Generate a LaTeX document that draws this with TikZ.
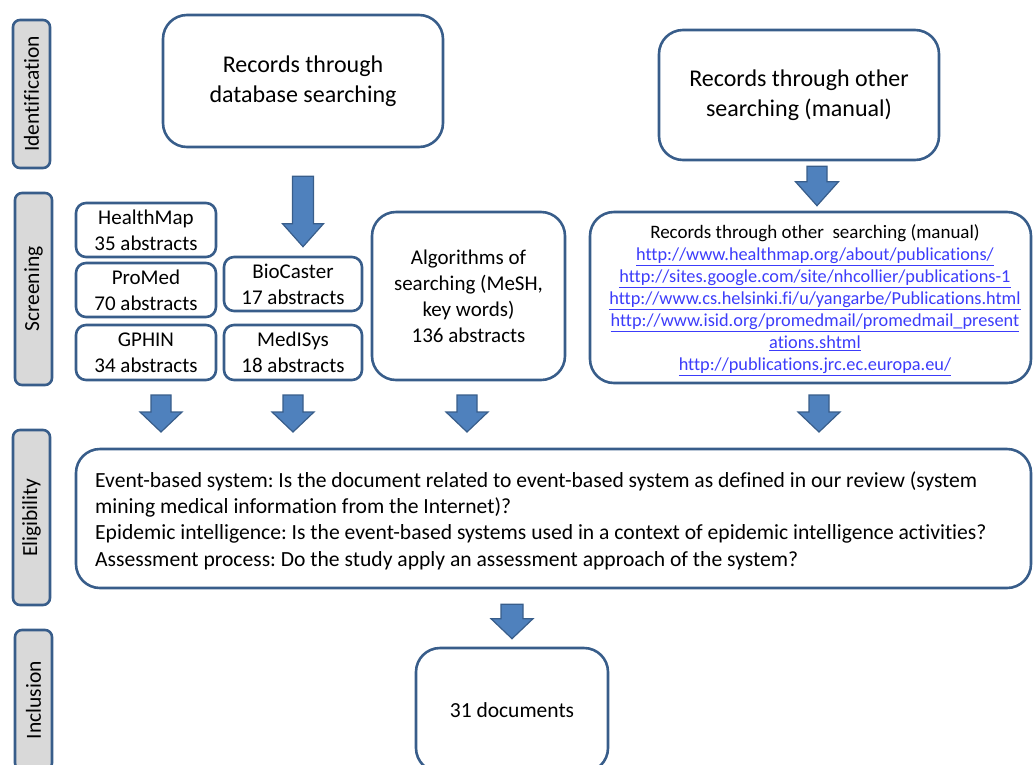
\documentclass[tikz,border=0pt]{standalone}
\usepackage{fontspec}
\setmainfont{Carlito}[Ligatures=NoCommon]
\usetikzlibrary{calc}
\definecolor{boxblue}{RGB}{56,93,138}
\definecolor{arrowblue}{RGB}{79,129,189}
\definecolor{tabgray}{RGB}{217,217,217}
\definecolor{urlblue}{RGB}{60,60,250}

% block arrow: top, tip, shaft half width, head half width, head length
\newcommand{\blockarrow}[5]{%
  \filldraw[arrowfill] ($(#1)+(-#3,0)$) -- ($(#2)+(-#3,-#5)$) -- ($(#2)+(-#4,-#5)$)
    -- (#2) -- ($(#2)+(#4,-#5)$) -- ($(#2)+(#3,-#5)$) -- ($(#1)+(#3,0)$) -- cycle;}
\newcommand{\weblink}[1]{\textcolor{urlblue}{\underline{#1}}}
\frenchspacing

\begin{document}
\begin{tikzpicture}[x=1pt,y=-1pt]
            \tikzstyle{every node}=[font=\fontsize{21}{26}\selectfont]
            \tikzstyle{box}=[draw=boxblue, line width=2.6pt, rounded corners=10pt, align=center, inner sep=0pt]
            \tikzstyle{bigbox}=[box, rounded corners=24pt, font=\fontsize{24}{30}\selectfont]
            \tikzstyle{stage}=[draw=boxblue, fill=tabgray, line width=2.6pt, rounded corners=7pt,
                rotate=90, inner sep=0pt, minimum height=37pt, font=\fontsize{21.5}{24}\selectfont]
            \tikzstyle{arrowfill}=[fill=arrowblue, draw=boxblue, line width=1.2pt, line join=miter]
            \useasboundingbox (0,0) rectangle (1034,764);
            \clip (0,0) rectangle (1034,764);

            % stages
            \node[stage, minimum width=148pt] (sid) at (31.5, 94) {Identification};
            \node[stage, minimum width=192pt] (ssc) at (33.5, 289) {Screening};
            \node[stage, minimum width=175pt] (sel) at (31.5, 517.5) {Eligibility};
            \node[stage, minimum width=140pt] (sin) at (33.5, 700) {Inclusion};

            % identification
            \node[bigbox, minimum width=280pt, minimum height=132pt] (db) at (303, 81) {Records through\\database searching};
            \node[bigbox, minimum width=280pt, minimum height=130pt] (man) at (799, 95) {Records through other\\searching (manual)};

            % screening
            \node[box, minimum width=140pt, minimum height=54pt] (hm) at (146, 230) {HealthMap\\35 abstracts};
            \node[box, minimum width=140pt, minimum height=54pt] (pm) at (146, 290) {ProMed\\70 abstracts};
            \node[box, minimum width=140pt, minimum height=55pt] (gp) at (146, 352.5) {GPHIN\\34 abstracts};
            \node[box, minimum width=138pt, minimum height=54pt] (bc) at (293, 284) {BioCaster\\17 abstracts};
            \node[box, minimum width=138pt, minimum height=55pt] (ms) at (293, 352.5) {MedISys\\18 abstracts};
            \node[box, rounded corners=24pt, minimum width=193pt, minimum height=168pt] (alg) at (468.5, 296)
                {Algorithms of\\searching (MeSH,\\key words)\\136 abstracts};
            \node[box, rounded corners=24pt, minimum width=441pt, minimum height=171pt] (url) at (810.5, 297.5) {};
            \node[align=center, font=\fontsize{18.3}{22}\selectfont] (links) at (815, 300)
                {{\fontsize{19}{22}\selectfont Records through other\ \ searching (manual)}\\
                 \weblink{http://www.healthmap.org/about/publications/}\\
                 \weblink{http://sites.google.com/site/nhcollier/publications-1}\\
                 \weblink{http://www.cs.helsinki.fi/u/yangarbe/Publications.html}\\
                 \weblink{http://www.isid.org/promedmail/promedmail\_present}\\
                 \weblink{ations.shtml}\\
                 \weblink{http://publications.jrc.ec.europa.eu/}};

            % eligibility
            \node[box, rounded corners=24pt, minimum width=955pt, minimum height=139pt] (elig) at (553.5, 518.5) {};
            \node[anchor=west, align=left, inner sep=0pt, font=\fontsize{21.6}{26.3}\selectfont] (crit) at (95, 520.5)
                {Event-based system: Is the document related to event-based system as defined in our review (system\\
                 mining medical information from the Internet)?\\
                 Epidemic intelligence: Is the event-based systems used in a context of epidemic intelligence activities?\\
                 Assessment process: Do the study apply an assessment approach of the system?};

            % inclusion
            \node[box, rounded corners=24pt, minimum width=192pt, minimum height=124pt, font=\fontsize{21.5}{24}\selectfont] (docs) at (512, 710) {31 documents};

            % arrows
            \coordinate (a1t) at ($(db.south)+(0,28)$);
            \coordinate (a1b) at ($(db.south |- bc.north)+(0,-9)$);
            \coordinate (a2t) at ($(man.south)+(18,5)$);
            \coordinate (a2b) at ($(man.south |- url.north)+(18,-5)$);
            \blockarrow{a1t}{a1b}{10.5}{20.5}{23}
            \blockarrow{a2t}{a2b}{10}{21.5}{24}
            \foreach \x in {161, 293, 467, 819}{
                \coordinate (rt\x) at (\x, 395);
                \coordinate (rb\x) at (\x, 432);
                \blockarrow{rt\x}{rb\x}{10}{21}{20}
            }
            \coordinate (a3t) at ($(elig.south)+(-41.5,15)$);
            \coordinate (a3b) at ($(docs.north)+(0,-8)$);
            \blockarrow{a3t}{a3b}{11}{21}{20}
        \end{tikzpicture}
\end{document}
